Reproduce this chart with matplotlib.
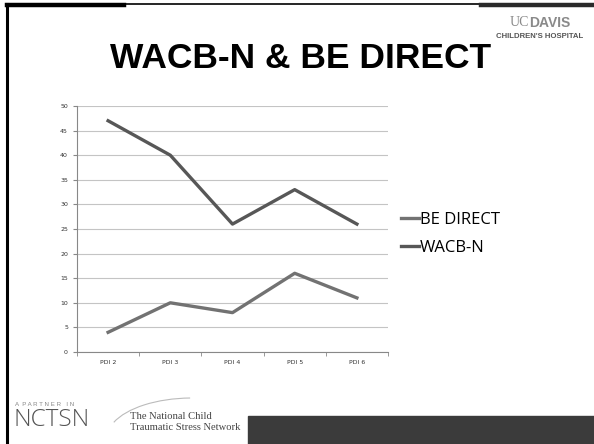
import matplotlib.pyplot as plt
import numpy as np
from matplotlib.patches import Rectangle, Arc
from matplotlib.lines import Line2D

categories = ['PDI 2', 'PDI 3', 'PDI 4', 'PDI 5', 'PDI 6']
be_direct = [4, 10, 8, 16, 11]
wacb_n = [47, 40, 26, 33, 26]
series_names = ['BE DIRECT', 'WACB-N']

W, H = 594, 444
fig = plt.figure(figsize=(5.94, 4.44), dpi=100)


def fx(px):
    return px / W


def fy(py):
    return 1 - py / H


# slide frame
fig.add_artist(Line2D([fx(7), fx(7)], [fy(4), fy(444)], color='black', lw=2.2))
fig.add_artist(Line2D([fx(7), fx(124)], [fy(5), fy(5)], color='black', lw=3.2))
fig.add_artist(Line2D([fx(124), fx(481)], [fy(4.5), fy(4.5)], color='black', lw=1.2))
fig.add_artist(Line2D([fx(481), fx(594)], [fy(5), fy(5)], color='#2a2a2a', lw=3.2))
fig.add_artist(Rectangle((fx(248), 0), fx(594 - 248), 28 / H, color='#3b3b3b',
                         transform=fig.transFigure))

# title
fig.text(fx(301), fy(58), 'WACB-N & BE DIRECT', ha='center', va='center',
         fontsize=25.5, fontweight='bold', family='Liberation Sans')

# UC Davis logo
fig.text(fx(529), fy(23), 'UC', ha='right', va='center', fontsize=10,
         color='#8a8a8a', family='Liberation Serif')
fig.text(fx(529), fy(23), 'DAVIS', ha='left', va='center', fontsize=10,
         color='#8a8a8a', fontweight='bold', family='Liberation Sans')
fig.text(fx(540), fy(37), "CHILDREN'S HOSPITAL", ha='center', va='center',
         fontsize=5.6, color='#555555', fontweight='bold', family='Liberation Sans')

# NCTSN logo
fig.text(fx(15), fy(404), 'A  P A R T N E R   I N', ha='left', va='center',
         fontsize=4.4, color='#888888', family='Liberation Sans')
fig.text(fx(13), fy(420), 'NCTSN', ha='left', va='center', fontsize=17.5,
         color='#555555', family='Open Sans', fontweight='light')
fig.text(fx(130), fy(416), 'The National Child', ha='left', va='center',
         fontsize=7.6, color='#444444', family='Liberation Serif')
fig.text(fx(130), fy(427), 'Traumatic Stress Network', ha='left', va='center',
         fontsize=7.6, color='#444444', family='Liberation Serif')
fig.add_artist(Arc((fx(192), fy(438)), fx(170), 80 / H, theta1=92, theta2=165,
                   color='#bbbbbb', lw=0.8, transform=fig.transFigure))

# chart
ax = fig.add_axes([fx(77), fy(352), fx(388 - 77), (352 - 106) / H])
x = np.arange(len(categories))
ax.plot(x, be_direct, color='#727272', lw=2.4, label=series_names[0])
ax.plot(x, wacb_n, color='#575757', lw=2.4, label=series_names[1])
ax.set_xlim(-0.5, len(categories) - 0.5)
ax.set_ylim(0, 50)
ax.set_yticks(range(0, 51, 5))
ax.yaxis.grid(True, color='#c4c4c4', lw=0.8)
ax.set_axisbelow(True)
ax.set_xticks(x)
ax.set_xticklabels(categories)
ax.set_xticks(np.arange(-0.5, len(categories)), minor=True)
ax.tick_params(axis='x', which='major', length=0, labelsize=4.5, pad=6, colors='#333333')
ax.tick_params(axis='x', which='minor', length=3, color='#888888', direction='out')
ax.tick_params(axis='y', length=3, color='#888888', labelsize=4.5, labelcolor='#333333',
               direction='out')
for s in ['top', 'right']:
    ax.spines[s].set_visible(False)
for s in ['left', 'bottom']:
    ax.spines[s].set_color('#888888')
    ax.spines[s].set_linewidth(0.8)

fig.legend(loc='center left', bbox_to_anchor=(fx(386), fy(234)), frameon=False,
           prop={'family': 'Open Sans', 'size': 12}, handlelength=1.1,
           handletextpad=0.05, labelspacing=0.75)

fig.savefig('out.png', dpi=100)
